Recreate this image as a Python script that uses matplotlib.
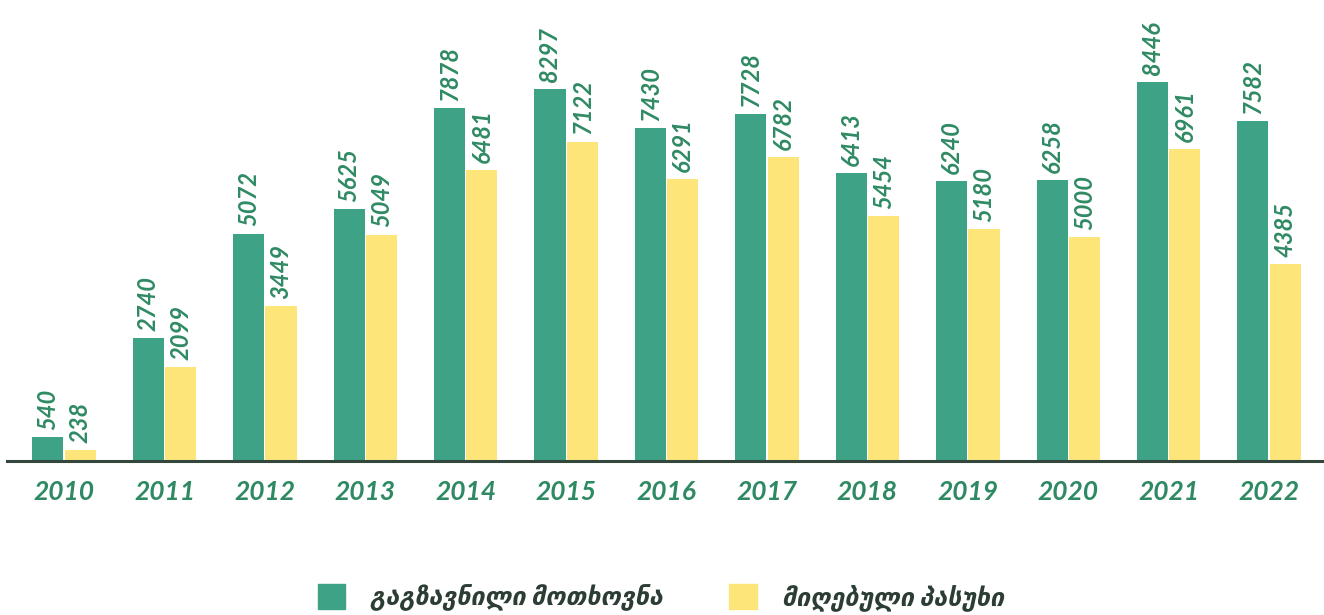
import matplotlib.pyplot as plt
from matplotlib.patches import Patch

years = ['2010', '2011', '2012', '2013', '2014', '2015', '2016',
         '2017', '2018', '2019', '2020', '2021', '2022']
sent = [540, 2740, 5072, 5625, 7878, 8297, 7430, 7728, 6413, 6240, 6258, 8446, 7582]
received = [238, 2099, 3449, 5049, 6481, 7122, 6291, 6782, 5454, 5180, 5000, 6961, 4385]
legend_labels = ['გაგზავნილი მოთხოვნა', 'მიღებული პასუხი']

green = '#3ea287'
yellow = '#fee57a'
label_green = '#2f8a63'
dark = '#2c3d34'

fonts = ['Lato', 'DejaVu Sans']

fig = plt.figure(figsize=(13.24, 6.15), dpi=100)
ax = fig.add_axes([0.0053, 0.2504, 0.9947, 0.7496])

x = list(range(len(years)))
w = 0.31
gap = 0.012
xs_g = [i - w / 2 - gap / 2 for i in x]
xs_y = [i + w / 2 + gap / 2 for i in x]
ax.bar(xs_g, sent, width=w, color=green)
ax.bar(xs_y, received, width=w, color=yellow)

for xi, v in zip(xs_g, sent):
    ax.text(xi, v + 160, str(v), rotation=90, ha='center', va='bottom',
            color=label_green, fontsize=17, fontweight='bold', fontstyle='italic',
            family=fonts)
for xi, v in zip(xs_y, received):
    ax.text(xi, v + 160, str(v), rotation=90, ha='center', va='bottom',
            color=label_green, fontsize=17, fontweight='bold', fontstyle='italic',
            family=fonts)

ax.set_xlim(-0.568, 12.547)
ax.set_ylim(0, 10280)
ax.set_xticks(x)
ax.set_xticklabels(years, fontsize=19, fontweight='bold', fontstyle='italic',
                   color=label_green, family=fonts)
ax.tick_params(axis='x', length=0, pad=14)
ax.set_yticks([])
for s in ['top', 'right', 'left']:
    ax.spines[s].set_visible(False)
ax.spines['bottom'].set_color('#34473d')
ax.spines['bottom'].set_linewidth(2.2)

handles = [Patch(color=green), Patch(color=yellow)]
fig.legend(handles, legend_labels, loc='lower center', bbox_to_anchor=(0.499, -0.03),
           ncol=2, frameon=False, handlelength=1.1, handleheight=1.15,
           handletextpad=1.0, columnspacing=2.65,
           prop={'family': fonts, 'size': 18, 'style': 'italic', 'weight': 'bold'},
           labelcolor=dark)

fig.savefig('out.png', dpi=100)
